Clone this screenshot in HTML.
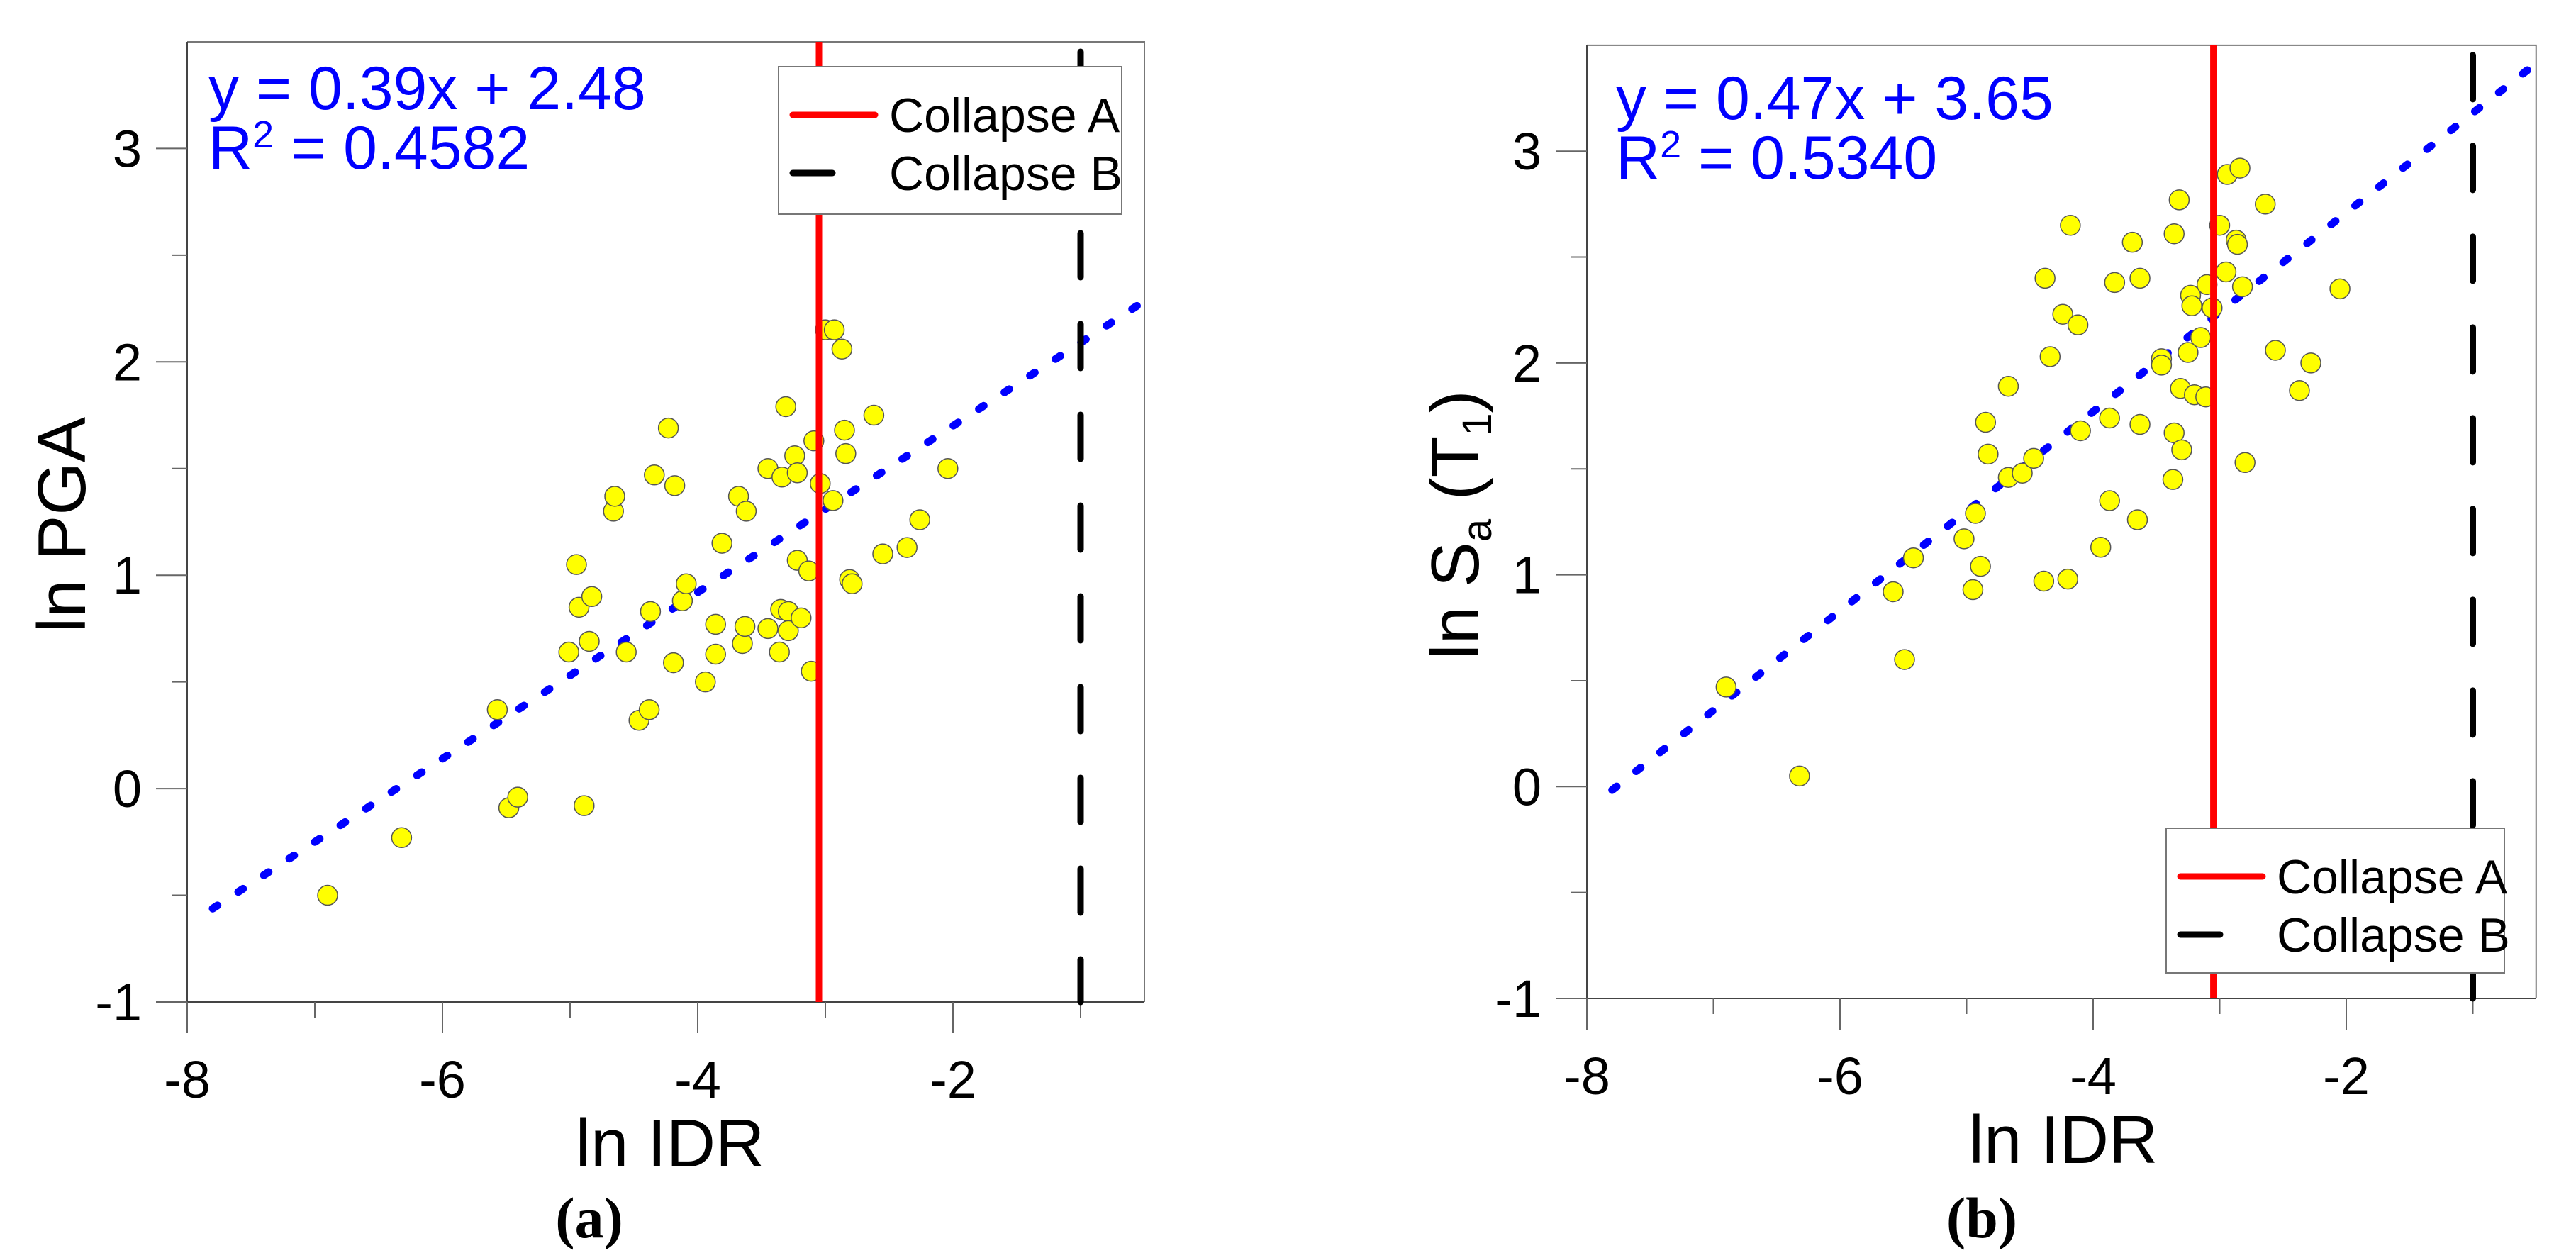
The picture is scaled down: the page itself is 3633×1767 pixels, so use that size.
<!DOCTYPE html>
<html><head><meta charset="utf-8"><style>
html,body{margin:0;padding:0;background:#fff;}
svg{display:block;font-family:"Liberation Sans",sans-serif;}
</style></head><body>
<svg id="fig" width="3633" height="1767" viewBox="0 0 3633 1767" xmlns="http://www.w3.org/2000/svg"></svg>
<script>
const xTicks=[-8,-6,-4,-2];
const yTicks=[-1,0,1,2,3];
const xA=[-6.90,-6.32,-5.57,-5.48,-5.41,-4.89,-5.01,-4.95,-4.93,-4.85,-4.83,-4.66,-4.65,-4.56,-4.46,-4.38,-4.37,-4.34,-4.23,-4.19,-4.18,-4.12,-4.09,-3.94,-3.86,-3.86,-3.81,-3.68,-3.65,-3.63,-3.62,-3.45,-3.45,-3.36,-3.35,-3.34,-3.31,-3.29,-3.29,-3.24,-3.22,-3.22,-3.19,-3.13,-3.11,-3.09,-3.04,-3.00,-2.93,-2.94,-2.87,-2.85,-2.84,-2.81,-2.79,-2.62,-2.55,-2.36,-2.26,-2.04];
const yA=[-0.50,-0.23,0.37,-0.09,-0.04,-0.08,0.64,1.05,0.85,0.69,0.90,1.30,1.37,0.64,0.32,0.37,0.83,1.47,1.69,0.59,1.42,0.88,0.96,0.50,0.77,0.63,1.15,1.37,0.68,0.76,1.30,0.75,1.50,0.64,0.84,1.46,1.79,0.83,0.74,1.56,1.07,1.48,0.80,1.02,0.55,1.63,1.43,2.15,2.15,1.35,2.06,1.68,1.57,0.98,0.96,1.75,1.10,1.13,1.26,1.50];
const xB=[-6.90,-6.32,-5.58,-5.49,-5.42,-5.02,-4.95,-4.93,-4.89,-4.85,-4.83,-4.67,-4.67,-4.56,-4.47,-4.39,-4.38,-4.34,-4.24,-4.20,-4.18,-4.12,-4.10,-3.94,-3.87,-3.87,-3.83,-3.69,-3.65,-3.63,-3.63,-3.46,-3.46,-3.37,-3.36,-3.36,-3.32,-3.31,-3.30,-3.25,-3.23,-3.22,-3.20,-3.15,-3.11,-3.10,-3.06,-3.00,-2.95,-2.94,-2.87,-2.86,-2.84,-2.82,-2.80,-2.64,-2.56,-2.37,-2.28,-2.05];
const yB=[0.47,0.05,0.92,0.60,1.08,1.17,0.93,1.29,1.04,1.72,1.57,1.89,1.46,1.48,1.55,0.97,2.40,2.03,2.23,0.98,2.65,2.18,1.68,1.13,1.74,1.35,2.38,2.57,1.26,1.71,2.40,2.02,1.99,1.45,1.67,2.61,2.77,1.88,1.59,2.05,2.32,2.27,1.85,2.12,1.84,2.37,2.26,2.65,2.43,2.89,2.58,2.56,2.92,2.36,1.53,2.75,2.06,1.87,2.00,2.35];
const fitA=[0.39,2.48];
const fitB=[0.47,3.65];
const collapse=[-3.05,-1.0];

const NS="http://www.w3.org/2000/svg";
const svg=document.getElementById('fig');
function mk(tag,attrs,parent){const e=document.createElementNS(NS,tag);for(const k in attrs)e.setAttribute(k,attrs[k]);(parent||svg).appendChild(e);return e;}

function panel(cfg){
  const g=mk('g',{});
  
  
  const X=v=>cfg.x0+(v+8)*cfg.ux;
  const Y=v=>cfg.y0-(v+1)*cfg.uy;
  const L=X(-8),R=X(-0.5),B=Y(-1),T=Y(3.5);
  const fr=mk('path',{d:`M${L} ${T}H${R}V${B}`,stroke:'#777',fill:'none','stroke-width':2},g);
  
  const ax=mk('path',{d:`M${L} ${T}V${B}H${R}`,stroke:'#444',fill:'none','stroke-width':2},g);
  
  for(let v=-8;v<=-1;v++){const maj=xTicks.includes(v);
    const t=mk('line',{x1:X(v),x2:X(v),y1:B,y2:B+(maj?44:22),stroke:'#666','stroke-width':2},g);
    }
  xTicks.forEach(v=>{const t=mk('text',{x:X(v),y:B+135,'font-size':74,'text-anchor':'middle',fill:'#000'},g);t.textContent=v;
    });
  for(let v=-1;v<=3;v+=0.5){const maj=Number.isInteger(v);
    const t=mk('line',{x1:L-(maj?44:22),x2:L,y1:Y(v),y2:Y(v),stroke:'#666','stroke-width':2},g);
    }
  yTicks.forEach(v=>{const t=mk('text',{x:L-64,y:Y(v)+26,'font-size':74,'text-anchor':'end',fill:'#000'},g);t.textContent=v;
    });
  const xt=mk('text',{x:cfg.xtx,y:B+232,'font-size':96,'text-anchor':'middle'},g);xt.textContent='ln IDR';
  
  const yt=mk('text',{x:0,y:0,'font-size':96,'text-anchor':'middle',transform:`translate(${cfg.ytx},${cfg.yty}) rotate(-90)`},g);
  yt.innerHTML=cfg.ytitle;
  
  const cap=mk('text',{x:cfg.capx,y:1745,'font-size':82,'font-weight':'bold','text-anchor':'middle','font-family':'Liberation Serif, serif'},g);cap.textContent=cfg.cap;
  
  const x1=-7.8,x2=-0.5;
  const fl=mk('line',{x1:X(x1),y1:Y(cfg.fit[0]*x1+cfg.fit[1]),x2:X(x2),y2:Y(cfg.fit[0]*x2+cfg.fit[1]),stroke:'#0000ff','stroke-width':11,'stroke-dasharray':'8 35','stroke-linecap':'round'},g);
  
  cfg.xs.forEach((xv,i)=>{const c=mk('circle',{cx:X(xv),cy:Y(cfg.ys[i]),r:14,fill:'#ffff00',stroke:'#555','stroke-width':1.5},g);
    });
  const ca=mk('line',{x1:X(collapse[0]),x2:X(collapse[0]),y1:T,y2:B,stroke:'#ff0000','stroke-width':9},g);
  
  const cb=mk('line',{x1:X(collapse[1]),x2:X(collapse[1]),y1:T+14,y2:B,stroke:'#000','stroke-width':9,'stroke-dasharray':'62 66','stroke-linecap':'round'},g);
  
  const e1=mk('text',{x:cfg.eqx,y:cfg.eqy,'font-size':86,fill:'#0000ff'},g);e1.textContent=cfg.eq;
  
  const e2=mk('text',{x:cfg.eqx,y:cfg.eqy+84,'font-size':86,fill:'#0000ff'},g);e2.innerHTML='R<tspan font-size="54" dy="-30">2</tspan><tspan dy="30"> = '+cfg.r2+'</tspan>';
  
  const lg=mk('g',{},g);
  const b=cfg.leg;
  mk('rect',{x:b[0],y:b[1],width:b[2]-b[0],height:b[3]-b[1],fill:'#fff',stroke:'#777','stroke-width':2},lg);
  const r1=mk('line',{x1:b[0]+20,x2:b[0]+136,y1:b[1]+68,y2:b[1]+68,stroke:'#ff0000','stroke-width':9,'stroke-linecap':'round'},lg);
  
  const r2=mk('line',{x1:b[0]+20,x2:b[0]+76,y1:b[1]+150,y2:b[1]+150,stroke:'#000','stroke-width':9,'stroke-linecap':'round'},lg);
  
  const t1=mk('text',{x:b[0]+156,y:b[1]+92,'font-size':68},lg);t1.textContent='Collapse A';
  
  const t2=mk('text',{x:b[0]+156,y:b[1]+174,'font-size':68},lg);t2.textContent='Collapse B';
  
}
panel({name:'panel-a',x0:264,ux:180,y0:1413,uy:300.9,xs:xA,ys:yA,fit:fitA,eq:'y = 0.39x + 2.48',r2:'0.4582',
  eqx:294,eqy:154,leg:[1098,94,1582,302],xtx:945,ytx:120,yty:740,ytitle:'ln PGA',cap:'(a)',capx:831});
panel({name:'panel-b',x0:2238,ux:178.5,y0:1408,uy:298.7,xs:xB,ys:yB,fit:fitB,eq:'y = 0.47x + 3.65',r2:'0.5340',
  eqx:2279,eqy:168,leg:[3055,1168,3532,1372],xtx:2910,ytx:2085,yty:740,ytitle:'ln S<tspan font-size="58" dy="18">a</tspan><tspan dy="-18"> (T</tspan><tspan font-size="58" dy="18">1</tspan><tspan dy="-18">)</tspan>',cap:'(b)',capx:2795});
</script>
</body></html>
